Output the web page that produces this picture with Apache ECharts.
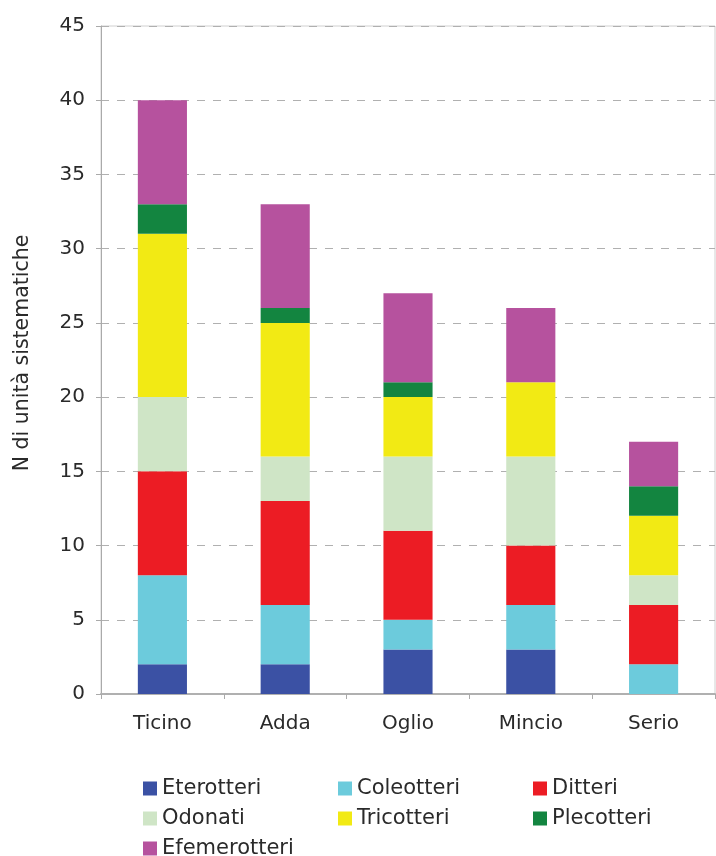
<!DOCTYPE html>
<html>
<head>
<meta charset="utf-8">
<script src="https://cdn.jsdelivr.net/npm/echarts@6/dist/echarts.min.js"></script>
<style>
  html, body { margin: 0; padding: 0; background: #fff; }
  #chart { width: 716px; height: 856px; }
</style>
</head>
<body>
<div id="chart"></div>
<script>
// Rivers (categories) and number of taxonomic units per insect order
const rivers = ['Ticino', 'Adda', 'Oglio', 'Mincio', 'Serio'];
const eterotteri   = [2, 2, 3, 3, 0];
const coleotteri   = [6, 4, 2, 3, 2];
const ditteri      = [7, 7, 6, 4, 4];
const odonati      = [5, 3, 5, 6, 2];
const tricotteri   = [11, 9, 4, 5, 4];
const plecotteri   = [2, 1, 1, 0, 2];
const efemerotteri = [7, 7, 6, 5, 3];
const yTicks = [0, 5, 10, 15, 20, 25, 30, 35, 40, 45];

const groups = [
  { name: 'Eterotteri',   data: eterotteri,   color: '#3b51a4' },
  { name: 'Coleotteri',   data: coleotteri,   color: '#6ccbdc' },
  { name: 'Ditteri',      data: ditteri,      color: '#ec1c24' },
  { name: 'Odonati',      data: odonati,      color: '#cfe5c6' },
  { name: 'Tricotteri',   data: tricotteri,   color: '#f2ea14' },
  { name: 'Plecotteri',   data: plecotteri,   color: '#138540' },
  { name: 'Efemerotteri', data: efemerotteri, color: '#b6529e' }
];

// legend laid out in three columns
const legendColumns = [
  { left: 143, names: ['Eterotteri', 'Odonati', 'Efemerotteri'] },
  { left: 338, names: ['Coleotteri', 'Tricotteri'] },
  { left: 533, names: ['Ditteri', 'Plecotteri'] }
];

const font = 'DejaVu Sans, Verdana, sans-serif';
const textColor = '#2a2a2a';

const chart = echarts.init(document.getElementById('chart'), null, { renderer: 'canvas' });

chart.setOption({
  animation: false,
  backgroundColor: '#ffffff',
  textStyle: { fontFamily: font },
  grid: {
    left: 101, right: 1, top: 26, bottom: 162,
    show: true, borderColor: '#d0d0d0', borderWidth: 1,
    containLabel: false
  },
  legend: legendColumns.map(col => ({
    left: col.left,
    top: 778,
    height: 120,
    padding: 0,
    orient: 'vertical',
    itemWidth: 14,
    itemHeight: 14,
    itemGap: 9,
    icon: 'rect',
    selectedMode: false,
    textStyle: { fontFamily: font, fontSize: 21, color: textColor, padding: [0, 0, 0, 0] },
    data: col.names
  })),
  xAxis: {
    type: 'category',
    data: rivers,
    axisLine: { lineStyle: { color: '#b0b0b0', width: 2 } },
    axisTick: { show: true, length: 5, lineStyle: { color: '#aaa' } },
    axisLabel: { fontFamily: font, fontSize: 20, color: textColor, margin: 20 },
    splitLine: { show: false }
  },
  yAxis: {
    type: 'value',
    min: yTicks[0],
    max: yTicks[yTicks.length - 1],
    interval: 5,
    name: 'N di unità sistematiche',
    nameLocation: 'middle',
    nameGap: 68,
    nameTextStyle: { fontFamily: font, fontSize: 20.5, color: textColor, padding: [0, 0, 0, 14] },
    axisLine: { show: true, lineStyle: { color: '#aaaaaa', width: 1 } },
    axisTick: { show: true, length: 5, lineStyle: { color: '#aaa' } },
    axisLabel: { fontFamily: font, fontSize: 20, color: textColor, margin: 16 },
    splitLine: {
      show: true,
      lineStyle: { color: '#b0b0b0', type: [8, 8], width: 1 }
    }
  },
  series: groups.map(g => ({
    name: g.name,
    type: 'bar',
    stack: 'total',
    barWidth: '40%',
    data: g.data,
    itemStyle: { color: g.color }
  }))
});
</script>
</body>
</html>
